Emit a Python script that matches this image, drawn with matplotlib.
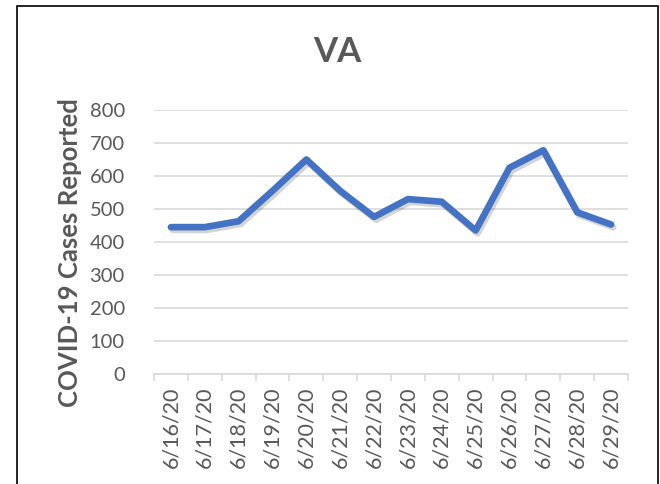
import matplotlib.pyplot as plt
import matplotlib.patheffects as pe
from matplotlib.patches import Rectangle

dates = ['6/16/20', '6/17/20', '6/18/20', '6/19/20', '6/20/20', '6/21/20', '6/22/20',
         '6/23/20', '6/24/20', '6/25/20', '6/26/20', '6/27/20', '6/28/20', '6/29/20']
cases = [445, 445, 463, 555, 650, 555, 476, 530, 522, 435, 625, 678, 490, 453]

plt.rcParams['font.family'] = ['Lato', 'DejaVu Sans']
grey = '#595959'

fig = plt.figure(figsize=(6.6, 4.84), dpi=100)
fig.patches.append(Rectangle((17 / 660, -0.05), 641 / 660, 1.05 - 6 / 484,
                             transform=fig.transFigure, fill=False,
                             edgecolor='black', linewidth=1.2))

ax = fig.add_axes([154 / 660, 110 / 484, 474 / 660, 264 / 484])
x = range(len(cases))
ax.plot(x, cases, color='#4472C4', linewidth=4.8, solid_joinstyle='round',
        solid_capstyle='round',
        path_effects=[pe.SimpleLineShadow(offset=(1.5, -2), alpha=0.25, shadow_color='#555555'),
                      pe.Normal()])

ax.set_xlim(-0.5, len(cases) - 0.5)
ax.set_ylim(0, 800)
ax.set_yticks(range(0, 801, 100))
ax.grid(axis='y', color='#D9D9D9', linewidth=1.2)
ax.set_axisbelow(True)

ax.set_xticks(list(x))
ax.set_xticklabels(dates, rotation=90)
ax.set_xticks([i - 0.5 for i in range(len(cases) + 1)], minor=True)
ax.tick_params(axis='x', which='major', length=0, pad=9, labelsize=15.5, labelcolor=grey)
ax.tick_params(axis='x', which='minor', length=5, color='#D9D9D9', width=1.2)
ax.tick_params(axis='y', length=0, pad=21, labelsize=14.5, labelcolor=grey)

for s in ['top', 'right', 'left']:
    ax.spines[s].set_visible(False)
ax.spines['bottom'].set_color('#D9D9D9')
ax.spines['bottom'].set_linewidth(1.2)

fig.text(337 / 660, 1 - 52 / 484, 'VA', fontsize=25, fontweight='bold', color=grey,
         ha='center', va='center')
ax.set_ylabel('COVID-19 Cases Reported', fontsize=18.5, fontweight='bold', color=grey)
ax.yaxis.set_label_coords(-0.152, 0.46)

fig.savefig('out.png', dpi=100)
